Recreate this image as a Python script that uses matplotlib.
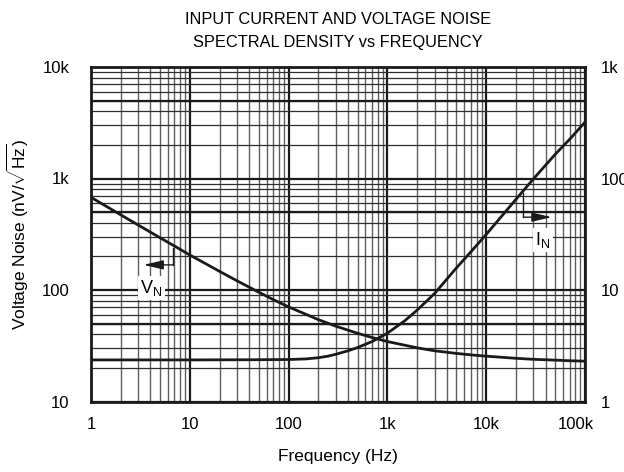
import matplotlib
matplotlib.use("Agg")
import matplotlib.pyplot as plt
from matplotlib.ticker import FixedLocator, FixedFormatter, NullFormatter
from matplotlib.transforms import ScaledTranslation
import numpy as np

plt.rcParams['font.family'] = ['Liberation Sans', 'DejaVu Sans']
plt.rcParams['mathtext.fontset'] = 'custom'
plt.rcParams['mathtext.rm'] = 'Liberation Sans'
plt.rcParams['mathtext.it'] = 'Liberation Sans'
plt.rcParams['mathtext.bf'] = 'Liberation Sans:bold'

# ---- data ----
vn_freq = [1, 2, 3, 5, 7, 10, 20, 30, 50, 70, 100, 150, 200, 300, 500, 700,
           1e3, 2e3, 3e3, 5e3, 7e3, 1e4, 2e4, 3e4, 5e4, 7e4, 1e5]
vn_vals = [678, 472, 383, 294, 248, 206, 147, 121, 95.5, 82, 70.5, 60.5, 54.2, 47.4, 40.9, 37.5,
           34.5, 30.3, 28.5, 27.0, 26.2, 25.5, 24.4, 23.9, 23.5, 23.2, 23.0]   # nV/rtHz (left)

in_freq = [1, 10, 50, 100, 150, 200, 250, 300, 400, 500, 700, 1e3, 1.5e3, 2e3, 3e3, 5e3, 7e3,
           1e4, 2e4, 3e4, 5e4, 7e4, 1e5]
in_vals = [2.36, 2.36, 2.37, 2.38, 2.41, 2.47, 2.55, 2.65, 2.85, 3.05, 3.45, 4.1, 5.3, 6.6, 9.3, 15.8, 22,
           31.5, 65, 99, 165, 225, 320]   # (right axis)

x_ticks = [1, 10, 100, 1e3, 1e4, 1e5]
x_labels = ['1', '10', '100', '1k', '10k', '100k']
yl_ticks = [10, 100, 1e3, 1e4]
yl_labels = ['10', '100', '1k', '10k']
yr_ticks = [1, 10, 100, 1e3]
yr_labels = ['1', '10', '100', '1k']

title1 = 'INPUT CURRENT AND VOLTAGE NOISE'
title2 = 'SPECTRAL DENSITY vs FREQUENCY'

INK = '#1a1a1a'
W, H = 624, 472
fig = plt.figure(figsize=(W / 100, H / 100), dpi=100)
L, R, T, B = 91, 585, 67, 401.5
ax = fig.add_axes([L / W, 1 - B / H, (R - L) / W, (B - T) / H])

ax.set_xscale('log')
ax.set_yscale('log')
ax.set_xlim(1, 1e5)
ax.set_ylim(10, 1e4)

subs = np.arange(2, 10)
xminor = [s * 10.0 ** k for k in range(0, 5) for s in subs]
yminor = [s * 10.0 ** k for k in range(1, 4) for s in subs]
ax.xaxis.set_major_locator(FixedLocator(x_ticks))
ax.xaxis.set_major_formatter(FixedFormatter(x_labels))
ax.xaxis.set_minor_locator(FixedLocator(xminor))
ax.xaxis.set_minor_formatter(NullFormatter())
ax.yaxis.set_major_locator(FixedLocator(yl_ticks))
ax.yaxis.set_major_formatter(FixedFormatter(yl_labels))
ax.yaxis.set_minor_locator(FixedLocator(yminor))
ax.yaxis.set_minor_formatter(NullFormatter())

ax.grid(which='major', color=INK, lw=1.6, zorder=1)
ax.grid(which='minor', axis='y', color='#2e2e2e', lw=0.9, zorder=1)
ax.grid(which='minor', axis='x', color='#5e5e5e', lw=1.0, zorder=1)
for k in range(1, 4):
    ax.axhline(5 * 10.0 ** k, color=INK, lw=1.6, zorder=1)
ax.set_axisbelow(True)

ax.tick_params(which='both', length=0, labelsize=12)
ax.tick_params(axis='x', pad=11)
ax.tick_params(axis='y', pad=15.5)
for s in ax.spines.values():
    s.set_linewidth(2.0)
    s.set_color(INK)

ax.plot(vn_freq, vn_vals, color=INK, lw=2.0, zorder=3, solid_joinstyle='round')

ax2 = ax.twinx()
ax2.set_yscale('log')
ax2.set_ylim(1, 1e3)
ax2.yaxis.set_major_locator(FixedLocator(yr_ticks))
ax2.yaxis.set_major_formatter(FixedFormatter(yr_labels))
ax2.yaxis.set_minor_locator(FixedLocator([]))
ax2.tick_params(which='both', length=0, labelsize=12, pad=11.5)
for s in ax2.spines.values():
    s.set_visible(False)
ax2.plot(in_freq, in_vals, color=INK, lw=2.0, zorder=3, solid_joinstyle='round')

# V_N annotation (elbow arrow)
ax.plot([6.8, 6.8], [238, 168], color=INK, lw=1.0, zorder=4)
ax.annotate('', xy=(3.4, 168), xytext=(6.8, 168),
            arrowprops=dict(arrowstyle='-|>,head_length=1.2,head_width=0.28',
                            color=INK, lw=1.0, shrinkA=0, shrinkB=0),
            zorder=4)
ax.text(4.1, 104, r'$\mathregular{V_N}$', fontsize=13, ha='center', va='center', zorder=5,
        bbox=dict(facecolor='white', edgecolor='none', pad=1.5))

# I_N annotation (elbow arrow)
ax2.plot([2.38e4, 2.38e4], [74, 45], color=INK, lw=1.0, zorder=4)
ax2.annotate('', xy=(4.6e4, 45), xytext=(2.38e4, 45),
             arrowprops=dict(arrowstyle='-|>,head_length=1.2,head_width=0.28',
                             color=INK, lw=1.0, shrinkA=0, shrinkB=0),
             zorder=4)
ax2.text(3.76e4, 28, r'$\mathregular{I_N}$', fontsize=13, ha='center', va='center', zorder=5,
         bbox=dict(facecolor='white', edgecolor='none', pad=1.5))

cx = (L + R) / 2 / W
fig.text(cx, 1 - 20 / H, title1, ha='center', va='center', fontsize=11.8)
fig.text(cx, 1 - 43 / H, title2, ha='center', va='center', fontsize=11.8)
fig.text(cx, 1 - 456 / H, 'Frequency (Hz)', ha='center', va='center', fontsize=12.5)
fig.text(18 / W, 1 - 234 / H, r'Voltage Noise (nV/$\sqrt{\mathregular{Hz}}$)', ha='center', va='center',
         rotation=90, fontsize=12.5)

# last x tick label sits slightly left of its grid line, as in the reference
fig.canvas.draw()
last = ax.get_xticklabels()[-1]
last.set_transform(last.get_transform() + ScaledTranslation(-0.09, 0, fig.dpi_scale_trans))

fig.savefig('out.png', dpi=100)
